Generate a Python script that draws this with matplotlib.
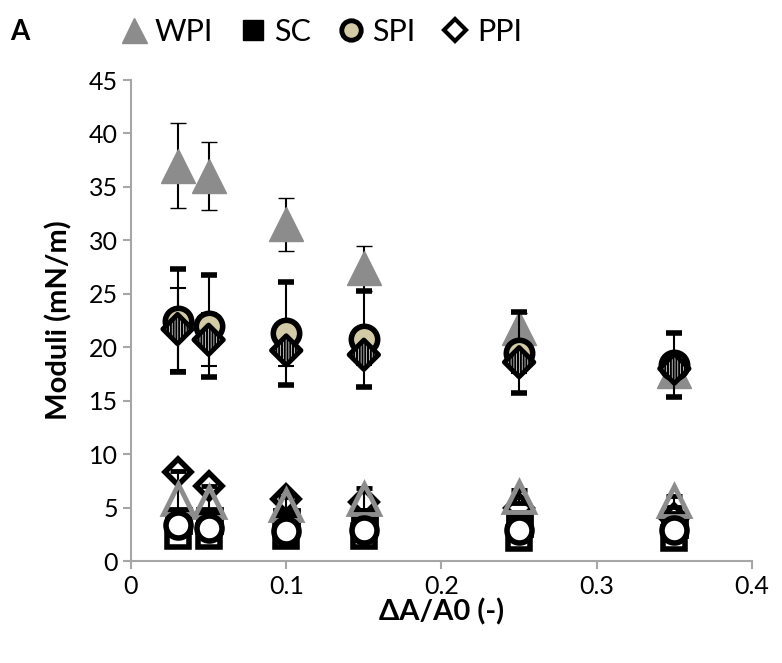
import numpy as np
import matplotlib.pyplot as plt
from matplotlib.lines import Line2D

plt.rcParams['font.family'] = ['Lato', 'DejaVu Sans']
plt.rcParams['hatch.color'] = '#888888'
plt.rcParams['hatch.linewidth'] = 1.5

strain = [0.03, 0.05, 0.10, 0.15, 0.25, 0.35]

# storage moduli (filled markers) and their errors
wpi_e = [37.0, 36.0, 31.5, 27.4, 21.8, 17.8]
wpi_e_err = [4.0, 3.2, 2.5, 2.1, 1.4, 0.8]
sc_e = [3.8, 3.8, 3.7, 3.7, 3.6, 3.5]
sc_e_err = [0.3, 0.3, 0.3, 0.3, 0.3, 0.3]
spi_e = [22.5, 22.0, 21.3, 20.8, 19.5, 18.3]
spi_e_err = [4.8, 4.8, 4.8, 4.5, 3.8, 3.0]
ppi_e = [21.7, 20.7, 19.7, 19.3, 18.6, 18.0]
ppi_e_err = [3.8, 2.5, 1.5, 1.0, 1.0, 0.8]

# loss moduli (open markers)
wpi_v = [5.8, 5.5, 5.2, 5.8, 6.0, 5.6]
wpi_v_err = [2.6, 1.5, 0.8, 1.0, 0.6, 0.5]
sc_v = [2.3, 2.3, 2.3, 2.3, 2.2, 2.2]
spi_v = [3.4, 3.1, 2.8, 2.9, 2.9, 2.9]
ppi_v = [8.3, 7.0, 5.8, 5.5, 5.0, 4.0]

labels = ['WPI', 'SC', 'SPI', 'PPI']

fig = plt.figure(figsize=(7.82, 6.63), dpi=100)
ax = fig.add_axes([0.1675, 0.1538, 0.7941, 0.7255])

ekw = dict(ecolor='black', elinewidth=1.5, capsize=6, capthick=1.5, linestyle='none')

# filled series
ax.errorbar(strain, wpi_e, yerr=wpi_e_err, marker='^', ms=24, mfc='#8c8c8c',
            mec='#8c8c8c', mew=1, zorder=3, **ekw)
ax.errorbar(strain, sc_e, yerr=sc_e_err, marker='s', ms=18, mfc='black',
            mec='black', mew=2, zorder=3, **ekw)
ax.errorbar(strain, spi_e, yerr=spi_e_err, marker='o', ms=19, mfc='#d3cba8',
            mec='black', mew=4, zorder=4, **ekw)
ax.errorbar(strain, ppi_e, yerr=ppi_e_err, zorder=4, **ekw)
ax.scatter(strain, ppi_e, marker='D', s=15**2, facecolor='white',
           edgecolor='black', linewidths=3.5, hatch='||||||', zorder=5)

# open series
ax.errorbar(strain, wpi_v, yerr=wpi_v_err, marker='^', ms=22, mfc='none',
            mec='#8c8c8c', mew=3.5, zorder=6, **ekw)
ax.plot(strain, sc_v, linestyle='none', marker='s', ms=16, mfc='white',
        mec='black', mew=4, zorder=5)
ax.plot(strain, ppi_v, linestyle='none', marker='D', ms=13, mfc='none',
        mec='black', mew=4, zorder=6)
ax.plot(strain, spi_v, linestyle='none', marker='o', ms=18, mfc='white',
        mec='black', mew=4, zorder=7)

ax.set_xlim(0, 0.4)
ax.set_ylim(0, 45)
ax.set_xticks([0, 0.1, 0.2, 0.3, 0.4])
ax.set_xticklabels(['0', '0.1', '0.2', '0.3', '0.4'])
ax.set_yticks(range(0, 46, 5))

for s in ['top', 'right']:
    ax.spines[s].set_visible(False)
for s in ['left', 'bottom']:
    ax.spines[s].set_color('#a6a6a6')
    ax.spines[s].set_linewidth(1.5)
ax.tick_params(colors='#a6a6a6', labelcolor='black', labelsize=18, width=1.5,
               length=6, direction='out')
ax.tick_params(axis='x', pad=4)

ax.set_xlabel('ΔA/A0 (-)', fontsize=21, fontweight='bold', labelpad=0)
ax.set_ylabel('Moduli (mN/m)', fontsize=21, fontweight='bold', labelpad=12)

handles = [
    Line2D([], [], linestyle='none', marker='^', ms=18, mfc='#8c8c8c', mec='#8c8c8c'),
    Line2D([], [], linestyle='none', marker='s', ms=15, mfc='black', mec='black'),
    Line2D([], [], linestyle='none', marker='o', ms=14, mfc='#d3cba8', mec='black', mew=3.5),
    Line2D([], [], linestyle='none', marker='D', ms=11, mfc='white', mec='black', mew=3),
]
fig.legend(handles, labels, loc='upper left', bbox_to_anchor=(0.12, 1.015),
           ncol=4, frameon=False, fontsize=22, handlelength=0.8,
           handletextpad=0.3, columnspacing=0.9)
fig.text(0.013, 0.94, 'A', fontsize=20, fontweight='bold')

fig.savefig('out.png', dpi=100)
